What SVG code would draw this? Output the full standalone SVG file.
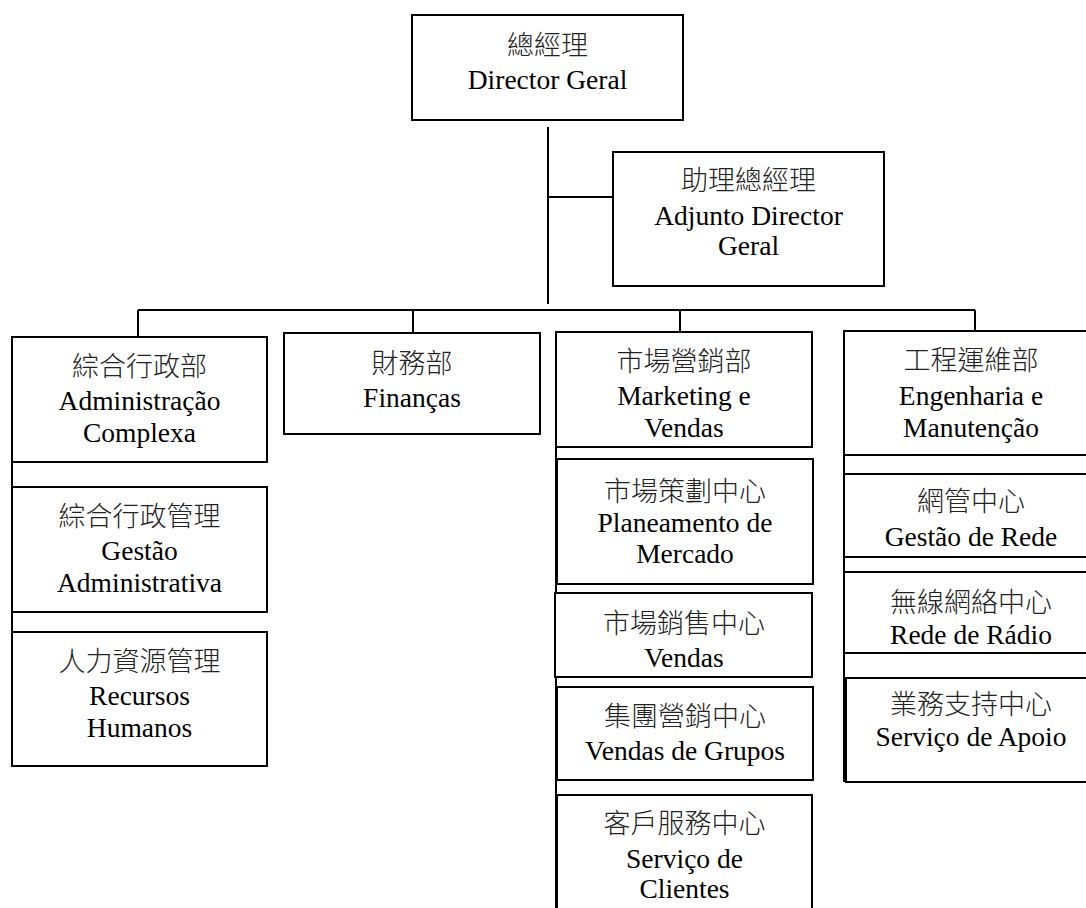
<svg xmlns="http://www.w3.org/2000/svg" width="1086" height="908" viewBox="0 0 1086 908">
<style>
.box{fill:#fff;stroke:#000;stroke-width:2}
.ln{stroke:#000;stroke-width:2;fill:none}
text{font-family:"Liberation Serif","Noto Sans CJK TC",serif;font-size:27.5px;text-anchor:middle;fill:#000}
.cj{font-size:27px;fill:#222;font-weight:300}
</style>
<defs>
<clipPath id="clipRede"><rect x="844" y="474" width="260" height="73"/></clipPath>
</defs>
<rect width="1086" height="908" fill="#fff"/>
<g id="connectors">
<line class="ln" x1="548" y1="127" x2="548" y2="304"/>
<line class="ln" x1="548" y1="197" x2="613" y2="197"/>
<line class="ln" x1="138" y1="310" x2="975" y2="310"/>
<line class="ln" x1="138" y1="310" x2="138" y2="337"/>
<line class="ln" x1="413" y1="310" x2="413" y2="333"/>
<line class="ln" x1="680" y1="310" x2="680" y2="332"/>
<line class="ln" x1="975" y1="310" x2="975" y2="331"/>
<line class="ln" x1="12" y1="462" x2="12" y2="766"/>
<line class="ln" x1="556" y1="447" x2="556" y2="910"/>
<line class="ln" x1="844" y1="455" x2="844" y2="782"/>
</g>
<g id="n-dg"><rect class="box" x="412" y="15" width="271" height="105"/><text class="cj" x="547.5" y="55">總經理</text><text x="547.5" y="89">Director Geral</text></g>
<g id="n-adj"><rect class="box" x="613" y="152" width="271" height="134"/><text class="cj" x="748.5" y="190">助理總經理</text><text x="748.5" y="225">Adjunto Director</text><text x="748.5" y="255">Geral</text></g>
<g id="n-admin"><rect class="box" x="12" y="337" width="255" height="125"/><text class="cj" x="139.5" y="376">綜合行政部</text><text x="139.5" y="410">Administração</text><text x="139.5" y="442">Complexa</text></g>
<g id="n-gadm"><rect class="box" x="12" y="487" width="255" height="125"/><text class="cj" x="139.5" y="526">綜合行政管理</text><text x="139.5" y="560">Gestão</text><text x="139.5" y="592">Administrativa</text></g>
<g id="n-rh"><rect class="box" x="12" y="632" width="255" height="134"/><text class="cj" x="139.5" y="671">人力資源管理</text><text x="139.5" y="705">Recursos</text><text x="139.5" y="737">Humanos</text></g>
<g id="n-fin"><rect class="box" x="284" y="333" width="256" height="101"/><text class="cj" x="412" y="373">財務部</text><text x="412" y="407">Finanças</text></g>
<g id="n-mkt"><rect class="box" x="556" y="332" width="256" height="115"/><text class="cj" x="684" y="371">市場營銷部</text><text x="684" y="405">Marketing e</text><text x="684" y="437">Vendas</text></g>
<g id="n-plan"><rect class="box" x="557" y="459" width="256" height="125"/><text class="cj" x="685" y="501">市場策劃中心</text><text x="685" y="532">Planeamento de</text><text x="685" y="563">Mercado</text></g>
<g id="n-vendas"><rect class="box" x="555" y="593" width="257" height="84"/><text class="cj" x="684" y="633">市場銷售中心</text><text x="684" y="667">Vendas</text></g>
<g id="n-grupos"><rect class="box" x="557" y="687" width="256" height="93"/><text class="cj" x="685" y="726">集團營銷中心</text><text x="685" y="760">Vendas de Grupos</text></g>
<g id="n-clientes"><rect class="box" x="557" y="795" width="255" height="140"/><text class="cj" x="684.5" y="833">客戶服務中心</text><text x="684.5" y="868">Serviço de</text><text x="684.5" y="898">Clientes</text></g>
<g id="n-eng"><rect class="box" x="844" y="331" width="256" height="124"/><text class="cj" x="971" y="370">工程運維部</text><text x="971" y="405">Engenharia e</text><text x="971" y="437">Manutenção</text></g>
<g id="n-rede"><rect class="box" x="844" y="474" width="256" height="83"/><text class="cj" x="971" y="511">網管中心</text><text x="971" y="546" clip-path="url(#clipRede)">Gestão de Rede</text></g>
<g id="n-radio"><rect class="box" x="844" y="572" width="256" height="81"/><text class="cj" x="971" y="612">無線網絡中心</text><text x="971" y="644">Rede de Rádio</text></g>
<g id="n-apoio"><rect class="box" x="846" y="678" width="254" height="104"/><text class="cj" x="971" y="714">業務支持中心</text><text x="971" y="746">Serviço de Apoio</text></g>
</svg>
